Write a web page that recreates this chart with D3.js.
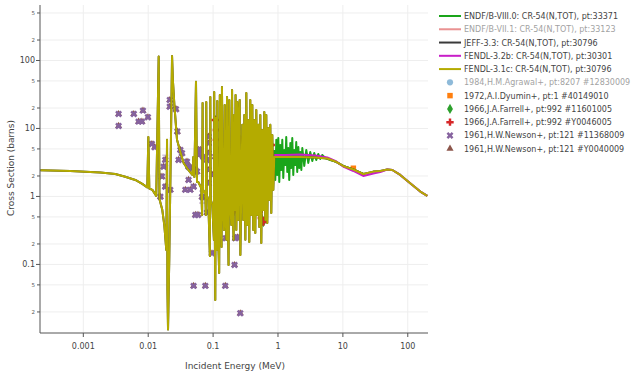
<!DOCTYPE html>
<html><head><meta charset="utf-8">
<script src="https://cdn.jsdelivr.net/npm/d3@7"></script>
<style>body{margin:0;background:#fff}svg{display:block}text{font-family:"DejaVu Sans",Verdana,sans-serif}</style>
</head><body><svg id="c" width="636" height="377"></svg>
<script>
// ---------- DATA ----------
const xTickVals = [0.001, 0.01, 0.1, 1, 10, 100];
const xTickLabels = ["0.001", "0.01", "0.1", "1", "10", "100"];
const yMajorVals = [0.1, 1, 10, 100];
const yMajorLabels = ["0.1", "1", "10", "100"];
const yMinorVals = [0.02, 0.05, 0.2, 0.5, 2, 5, 20, 50, 200, 500];
const yMinorLabels = ["2", "5", "2", "5", "2", "5", "2", "5", "2", "5"];

// FENDL-3.1c (and JEFF-3.3, same evaluation) : energy MeV, cross section b
const fendl31E = [2.17e-4, 6.3e-4, 1.83e-3, 3.11e-3, 4.43e-3, 6.33e-3, 8.11e-3, 9.68e-3, 0.01005, 0.0104, 0.0116, 0.0133, 0.0145, 0.0149, 0.0165, 0.0177, 0.0190, 0.0195, 0.0198, 0.0202, 0.0211, 0.0223, 0.0233, 0.0240, 0.0253, 0.0278, 0.0313, 0.0351, 0.0415, 0.0479, 0.0496, 0.0514, 0.0545, 0.0565,
  0.0591, 0.0658, 0.0677, 0.0689, 0.0699, 0.0758, 0.0774, 0.0785, 0.0799, 0.0843, 0.0892, 0.0906, 0.0922, 0.0972, 0.103, 0.104, 0.106, 0.108, 0.110, 0.113, 0.116, 0.118, 0.124, 0.127, 0.130, 0.135, 0.137, 0.141, 0.147, 0.151, 0.154, 0.160, 0.164, 0.167, 0.173, 0.178, 0.182, 0.191, 0.196, 0.200, 0.207, 0.212, 0.217, 0.222, 0.228, 0.236, 0.242, 0.249, 0.257, 0.263,
  0.282, 0.292, 0.303, 0.314, 0.325, 0.337, 0.349, 0.361, 0.374, 0.388, 0.402, 0.416, 0.431, 0.447, 0.463, 0.480, 0.497, 0.515, 0.534, 0.553, 0.573, 0.594, 0.615, 0.637, 0.660, 0.684, 0.709, 0.734, 0.761, 0.788, 0.817, 0.846,
  0.877, 1.30, 2.21, 3.76, 5.75, 7.64, 10.1, 14.5, 20.6, 29.4, 37.7, 48.3, 57.8, 76.6, 109, 156, 200];
const fendl31S = [2.42, 2.37, 2.25, 2.14, 1.95, 1.75, 1.53, 1.36, 7.5, 1.31, 1.25, 1.02, 114, 0.92, 0.63, 0.38, 0.163, 6.8, 0.042, 0.011, 0.116, 4.8, 116, 51.7, 22.2, 6.8, 4.51, 3.11, 2.45, 2.07, 3.81, 1.94, 48.8, 1.63,
  1.63, 1.33, 0.534, 23.7, 1.25, 1.09, 0.534, 24.5, 1.05, 0.89, 0.133, 29.1, 0.89, 0.75, 0.23, 34.4, 0.534, 0.030, 14.3, 0.163, 25.4, 0.45, 0.075, 31.1, 0.89, 0.181, 40.8, 1.05, 0.32, 22.2, 0.89, 0.23, 29.1, 1.25, 0.098, 26.2, 0.89, 0.381, 36.8, 0.75, 0.23, 15.8, 0.63, 31.1, 0.32, 24.5, 0.45, 13.3, 26.2, 0.138,
  11.3, 0.45, 15.8, 0.23, 33.3, 0.381, 13.3, 0.214, 26.2, 0.534, 22.2, 0.32, 13.3, 0.29, 18.7, 0.534, 11.3, 0.356, 15.8, 0.207, 9.5, 0.63, 17.5, 0.45, 15.8, 0.407, 10.2, 0.89, 11.3, 0.571, 8.0, 1.25,
  3.81, 3.81, 3.81, 3.75, 3.62, 3.27, 2.81, 2.49, 2.14, 2.32, 2.37, 2.49, 2.45, 2.07, 1.56, 1.18, 1.02];

// ENDF/B-VIII.0 (visible part above the resolved resonances)
const endf8E = [0.877, 0.909, 0.942, 0.976, 1.011, 1.047, 1.085, 1.124, 1.165, 1.207, 1.25, 1.30, 1.34, 1.39, 1.44, 1.49, 1.55, 1.60, 1.66, 1.72, 1.78, 1.85, 1.91, 1.98, 2.06, 2.13, 2.21, 2.29, 2.37, 2.54, 2.73, 2.93, 3.14, 3.38, 3.62, 3.89, 4.17, 4.48, 4.81, 5.35, 6.39, 7.64, 10.1, 14.5, 20.6];
const endf8S = [4.83, 1.75, 6.8, 2.07, 7.25, 1.63, 5.7, 2.45, 6.8, 1.87, 4.83, 2.91, 7.5, 2.29, 5.16, 1.75, 6.12, 2.63, 7.25, 2.07, 4.83, 2.91, 6.33, 2.29, 5.34, 2.63, 4.51, 2.45, 5.16, 2.81, 4.83, 3.11, 4.51, 3.33, 4.36, 3.44, 4.22, 3.56, 4.08, 3.68, 3.44, 3.27, 2.81, 2.49, 2.14];

// FENDL-3.2b
const fendl32E = [0.877, 1.30, 2.21, 3.76, 5.75, 7.64, 10.1, 14.5, 20.6, 29.4, 37.7, 48.3, 57.8, 76.6, 109, 156, 200];
const fendl32S = [4.08, 4.08, 4.15, 4.01, 3.75, 3.33, 2.76, 2.37, 2.00, 2.18, 2.29, 2.49, 2.45, 2.07, 1.56, 1.18, 1.02];

// 1961 H.W.Newson (both EXFOR entries)
const newsonE = [0.0035, 0.0035, 0.0060, 0.0083, 0.0071, 0.0080, 0.0099, 0.0114, 0.0126, 0.0215, 0.0215, 0.0268, 0.0281, 0.0313, 0.0332, 0.0294, 0.0396, 0.0419, 0.0473, 0.0532, 0.0598, 0.0598, 0.0565, 0.0173, 0.0183, 0.0163, 0.0183, 0.0219, 0.0373, 0.0445, 0.0419, 0.0501, 0.0154, 0.0532, 0.0585, 0.0501, 0.0758, 0.154, 0.0805, 0.0962, 0.157, 0.220, 0.236, 0.214, 0.262, 0.164, 0.178, 0.198, 0.220, 0.0853, 0.0853, 0.0853, 0.0805, 0.0853, 0.0853, 0.0635, 0.0706, 0.0675, 0.108, 0.0972, 0.120, 0.313, 0.374, 0.447, 0.533, 0.637, 0.139];
const newsonS = [16.3, 10.9, 16.3, 18.3, 12.6, 12.6, 14.6, 5.9, 5.3, 26.2, 20.9, 19.2, 9.0, 4.83, 4.32, 3.44, 3.25, 2.74, 2.60, 2.45, 4.83, 4.07, 2.32, 2.74, 3.44, 1.96, 1.39, 1.25, 1.25, 1.25, 1.75, 1.39, 0.99, 0.535, 0.535, 0.0483, 0.0483, 0.0483, 0.578, 0.146, 0.243, 0.243, 0.251, 0.098, 0.0191, 0.794, 0.597, 0.75, 0.99, 7.57, 6.06, 4.32, 3.44, 2.45, 1.56, 4.83, 3.81, 0.98, 3.85, 2.07, 2.9, 1.25, 2.07, 0.89, 1.48, 1.05, 1.48];
const newsonErrE = [0.0183, 0.0675];
const newsonErrLo = [2.85, 0.80];
const newsonErrHi = [4.05, 1.20];

// 1966 J.A.Farrell (both EXFOR entries)
const farrellE = [0.108, 0.112, 0.112, 0.116, 0.116, 0.120, 0.120, 0.129, 0.139, 0.154, 0.165, 0.178, 0.191, 0.205, 0.228, 0.245, 0.263, 0.282, 0.303, 0.325, 0.349, 0.374, 0.402, 0.431, 0.463, 0.497, 0.515, 0.553, 0.594, 0.637, 0.684, 0.734, 0.788, 0.846];
const farrellS = [13.3, 9.5, 6.8, 4.8, 3.44, 2.45, 1.75, 1.25, 3.44, 2.07, 1.48, 1.05, 0.75, 0.59, 4.8, 2.45, 6.8, 1.48, 3.44, 0.89, 4.8, 2.07, 8.0, 1.25, 2.91, 0.75, 0.59, 0.483, 0.42, 0.89, 1.75, 3.44, 5.7, 4.08];

// 1972 A.I.Dyumin
const dyuminE = [14.5];
const dyuminS = [2.6];

const legendLabels = ["ENDF/B-VIII.0: CR-54(N,TOT), pt:33371", "ENDF/B-VII.1: CR-54(N,TOT), pt:33123", "JEFF-3.3: CR-54(N,TOT), pt:30796", "FENDL-3.2b: CR-54(N,TOT), pt:30301", "FENDL-3.1c: CR-54(N,TOT), pt:30796", "1984,H.M.Agrawal+, pt:8207 #12830009", "1972,A.I.Dyumin+, pt:1 #40149010", "1966,J.A.Farrell+, pt:992 #11601005", "1966,J.A.Farrell+, pt:992 #Y0046005", "1961,H.W.Newson+, pt:121 #11368009", "1961,H.W.Newson+, pt:121 #Y0040009"];

// ---------- STYLE ----------
const C = {green: "#1aa51a", pink: "#d62728", jeff: "#3a3a3a", magenta: "#c81ec8", olive: "#b4ab00",
  blue: "#1f77b4", orange: "#ff7f0e", dgreen: "#2ca02c", red: "#d62728", purple: "#86639f", brown: "#8c564b"};
const legendStyle = [
  {k: "line", c: C.green}, {k: "line", c: C.pink, hidden: true}, {k: "line", c: C.jeff},
  {k: "line", c: C.magenta}, {k: "line", c: C.olive},
  {k: d3.symbolCircle, c: C.blue, hidden: true, s: 30}, {k: d3.symbolSquare, c: C.orange, s: 30},
  {k: d3.symbolDiamond, c: C.dgreen, s: 30}, {k: d3.symbolCross, c: C.red, s: 30},
  {k: d3.symbolCross, c: C.purple, rot: 45, s: 30}, {k: d3.symbolTriangle, c: C.brown, s: 22}];

const L = 40, R = 428, T = 5, B = 333;
const svg = d3.select("#c");
const x = d3.scaleLog().domain([2.15e-4, 205]).range([L, R]);
const y = d3.scaleLog().domain([0.0098, 655]).range([B, T]);

// grid
const g = svg.append("g");
g.selectAll(".gy").data(yMajorVals.concat(yMinorVals)).join("line")
  .attr("x1", L).attr("x2", R).attr("y1", d => y(d)).attr("y2", d => y(d))
  .attr("stroke", "#eeeeee").attr("stroke-width", 1);
g.selectAll(".gx").data(xTickVals).join("line")
  .attr("y1", T).attr("y2", B).attr("x1", d => x(d)).attr("x2", d => x(d))
  .attr("stroke", "#eeeeee").attr("stroke-width", 1);

svg.append("clipPath").attr("id", "clip").append("rect").attr("x", L).attr("y", T).attr("width", R - L).attr("height", B - T);
const plot = svg.append("g").attr("clip-path", "url(#clip)");

function markers(E, S, type, color, size, rot) {
  const sym = d3.symbol().type(type).size(size);
  plot.append("g").selectAll("path").data(d3.zip(E, S)).join("path")
    .attr("d", sym).attr("fill", color)
    .attr("transform", d => `translate(${x(d[0])},${y(d[1])}) rotate(${rot || 0})`);
}
const eb = plot.append("g").attr("stroke", C.purple).attr("stroke-opacity", 0.55).attr("stroke-width", 1);
newsonErrE.forEach((e, i) => {
  const xx = x(e);
  eb.append("line").attr("x1", xx).attr("x2", xx).attr("y1", y(newsonErrLo[i])).attr("y2", y(newsonErrHi[i]));
  eb.append("line").attr("x1", xx - 3).attr("x2", xx + 3).attr("y1", y(newsonErrLo[i])).attr("y2", y(newsonErrLo[i]));
  eb.append("line").attr("x1", xx - 3).attr("x2", xx + 3).attr("y1", y(newsonErrHi[i])).attr("y2", y(newsonErrHi[i]));
});
markers(newsonE, newsonS, d3.symbolTriangle, C.brown, 22, 0);
markers(newsonE, newsonS, d3.symbolCross, C.purple, 30, 45);
markers(farrellE, farrellS, d3.symbolDiamond, C.dgreen, 30, 0);
markers(farrellE, farrellS, d3.symbolCross, C.red, 30, 0);
markers(dyuminE, dyuminS, d3.symbolSquare, C.orange, 30, 0);

const line = d3.line().x(d => x(d[0])).y(d => y(d[1]));
function curve(E, S, color, w) {
  plot.append("path").datum(d3.zip(E, S)).attr("d", line).attr("fill", "none")
    .attr("stroke", color).attr("stroke-width", w).attr("stroke-linejoin", "round");
}
curve(endf8E, endf8S, C.green, 2);
curve(fendl31E, fendl31S, C.jeff, 2);
curve(fendl32E, fendl32S, C.magenta, 2);
curve(fendl31E, fendl31S, C.olive, 2);

svg.append("line").attr("x1", L).attr("x2", L).attr("y1", T).attr("y2", B).attr("stroke", "#555").attr("stroke-width", 1);
svg.append("line").attr("x1", L).attr("x2", R).attr("y1", B).attr("y2", B).attr("stroke", "#555").attr("stroke-width", 1);

const xt = svg.append("g");
xTickVals.forEach((v, i) => {
  xt.append("line").attr("x1", x(v)).attr("x2", x(v)).attr("y1", B).attr("y2", B + 4).attr("stroke", "#555");
  xt.append("text").attr("x", x(v)).attr("y", 349).attr("text-anchor", "middle").attr("font-size", 8).attr("fill", "#444").text(xTickLabels[i]);
});
const yt = svg.append("g");
yMajorVals.forEach((v, i) => {
  yt.append("line").attr("x1", L - 4).attr("x2", L).attr("y1", y(v)).attr("y2", y(v)).attr("stroke", "#555");
  yt.append("text").attr("x", 35).attr("y", y(v) + 3).attr("text-anchor", "end").attr("font-size", 8).attr("fill", "#444").text(yMajorLabels[i]);
});
yMinorVals.forEach((v, i) => {
  yt.append("line").attr("x1", L - 3).attr("x2", L).attr("y1", y(v)).attr("y2", y(v)).attr("stroke", "#555");
  yt.append("text").attr("x", 35).attr("y", y(v) + 2).attr("text-anchor", "end").attr("font-size", 5.5).attr("fill", "#555").text(yMinorLabels[i]);
});

svg.append("text").attr("x", 235).attr("y", 369).attr("text-anchor", "middle").attr("font-size", 9).attr("fill", "#444").text("Incident Energy (MeV)");
svg.append("text").attr("transform", "translate(14,168) rotate(-90)").attr("text-anchor", "middle").attr("font-size", 9).attr("fill", "#444").text("Cross Section (barns)");

const lg = svg.append("g");
legendLabels.forEach((t, i) => {
  const st = legendStyle[i];
  const yy = 16 + i * 13.27;
  const item = lg.append("g").attr("opacity", st.hidden ? 0.5 : 1);
  if (st.k === "line") {
    item.append("line").attr("x1", 439).attr("x2", 461).attr("y1", yy).attr("y2", yy).attr("stroke", st.c).attr("stroke-width", 2);
  } else {
    item.append("path").attr("d", d3.symbol().type(st.k).size(st.s)()).attr("fill", st.c)
      .attr("transform", `translate(450,${yy}) rotate(${st.rot || 0})`);
  }
  item.append("text").attr("x", 464).attr("y", yy + 3).attr("font-size", 8).attr("fill", "#444").text(t);
});
</script></body></html>
